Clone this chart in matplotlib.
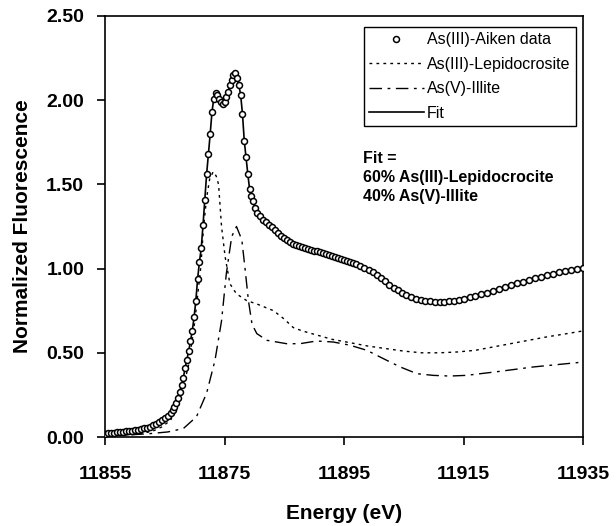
import matplotlib
matplotlib.use("Agg")
import matplotlib.pyplot as plt
from matplotlib.ticker import FormatStrFormatter

plt.rcParams["font.family"] = ["Liberation Sans", "DejaVu Sans"]

# As(III)-Aiken data (energy in eV, normalized fluorescence)
data_e = [
    11855.0, 11855.5, 11856.0, 11856.5, 11857.0, 11857.5, 11858.0, 11858.5,
    11859.0, 11859.5, 11860.0, 11860.5, 11861.0, 11861.5, 11862.0, 11862.5,
    11863.0, 11863.5, 11864.0, 11864.5, 11865.0, 11865.5, 11866.0,
    11866.3, 11866.6, 11866.9, 11867.2, 11867.5, 11867.8, 11868.1, 11868.4,
    11868.7, 11869.0, 11869.3, 11869.6, 11869.9, 11870.2, 11870.5, 11870.8,
    11871.1, 11871.4, 11871.7, 11872.0, 11872.3, 11872.6, 11872.9, 11873.2,
    11873.5, 11873.8, 11874.1, 11874.4, 11874.7, 11875.0, 11875.3, 11875.6,
    11875.9, 11876.2, 11876.5, 11876.8, 11877.1, 11877.4, 11877.7, 11878.0,
    11878.3, 11878.6, 11878.9, 11879.2, 11879.5, 11879.8, 11880.1,
    11880.5, 11881.0, 11881.5, 11882.0, 11882.5, 11883.0, 11883.5, 11884.0,
    11884.5, 11885.0, 11885.5, 11886.0, 11886.5, 11887.0, 11887.5, 11888.0,
    11888.5, 11889.0, 11889.5, 11890.0, 11890.5, 11891.0, 11891.5, 11892.0,
    11892.5, 11893.0, 11893.5, 11894.0, 11894.5, 11895.0, 11895.5, 11896.0,
    11896.5, 11897.0,
    11897.7, 11898.4, 11899.1, 11899.8, 11900.5, 11901.2, 11901.9, 11902.6,
    11903.3, 11904.0, 11904.7, 11905.4,
    11906.2, 11907.0, 11907.8, 11908.6, 11909.4, 11910.2, 11911.0, 11911.8,
    11912.6, 11913.4, 11914.2, 11915.0, 11916.0, 11917.0, 11918.0, 11919.0,
    11920.0, 11921.0, 11922.0, 11923.0, 11924.0, 11925.0, 11926.0, 11927.0,
    11928.0, 11929.0, 11930.0, 11931.0, 11932.0, 11933.0, 11934.0, 11935.0,
]
data_y = [
    0.020, 0.022, 0.024, 0.026, 0.028, 0.030, 0.032, 0.034,
    0.036, 0.038, 0.041, 0.044, 0.047, 0.051, 0.056, 0.062,
    0.069, 0.077, 0.087, 0.099, 0.112, 0.127, 0.145,
    0.16, 0.18, 0.20, 0.23, 0.27, 0.31, 0.35, 0.41,
    0.46, 0.51, 0.57, 0.63, 0.71, 0.81, 0.94, 1.04,
    1.12, 1.26, 1.41, 1.56, 1.68, 1.80, 1.93, 2.01,
    2.04, 2.03, 2.01, 1.99, 1.98, 1.99, 2.02, 2.05,
    2.09, 2.12, 2.15, 2.16, 2.13, 2.09, 2.03, 1.92,
    1.76, 1.66, 1.56, 1.47, 1.43, 1.40, 1.36,
    1.33, 1.31, 1.29, 1.275, 1.26, 1.245, 1.228, 1.21,
    1.195, 1.18, 1.168, 1.157, 1.148, 1.14, 1.133, 1.127,
    1.122, 1.117, 1.112, 1.107, 1.102, 1.097, 1.092, 1.087,
    1.081, 1.075, 1.069, 1.063, 1.057, 1.052, 1.047, 1.042,
    1.036, 1.029,
    1.018, 1.006, 0.992, 0.977, 0.960, 0.942, 0.924, 0.905,
    0.887, 0.870, 0.855, 0.842,
    0.830, 0.820, 0.813, 0.808, 0.805, 0.803, 0.802, 0.803,
    0.806, 0.810, 0.815, 0.821, 0.829, 0.838, 0.848, 0.858,
    0.869, 0.880, 0.891, 0.902, 0.913, 0.923, 0.933, 0.943,
    0.952, 0.961, 0.969, 0.977, 0.984, 0.991, 0.996, 1.002,
]

# As(III)-Lepidocrocite reference
lep_e = [11855, 11858, 11861, 11863, 11864.5, 11866, 11868, 11869, 11870,
         11871, 11871.5, 11872, 11872.5, 11873.1, 11873.6, 11874.0, 11874.5,
         11875.1, 11875.9, 11877, 11878.7, 11880.4, 11883.2, 11885, 11886.5,
         11888, 11890, 11893, 11896, 11899, 11902, 11905, 11908, 11911,
         11914, 11917, 11920, 11923, 11926, 11929, 11932, 11935]
lep_y = [0.005, 0.01, 0.02, 0.035, 0.06, 0.10, 0.28, 0.43, 0.68,
         1.00, 1.25, 1.42, 1.53, 1.575, 1.55, 1.50, 1.25,
         1.07, 0.91, 0.85, 0.81, 0.79, 0.75, 0.70, 0.65,
         0.63, 0.61, 0.58, 0.56, 0.54, 0.525, 0.51, 0.50, 0.50,
         0.505, 0.515, 0.535, 0.555, 0.575, 0.595, 0.612, 0.63]

# As(V)-Illite reference
ill_e = [11855, 11858, 11862.5, 11865.5, 11868.1, 11870.3, 11872.0, 11873.4,
         11874.5, 11875.3, 11876.2, 11877.0, 11877.9, 11878.4, 11879.0,
         11879.6, 11880.4, 11882.1, 11885.4, 11887.6, 11890.4, 11893.2,
         11896.0, 11898.8, 11901.6, 11904.4, 11907.2, 11909.9, 11912.7,
         11915.5, 11921.1, 11926.7, 11935]
ill_y = [0.005, 0.01, 0.02, 0.03, 0.05, 0.12, 0.26, 0.455,
         0.69, 0.97, 1.19, 1.25, 1.17, 1.01, 0.81,
         0.67, 0.614, 0.574, 0.554, 0.554, 0.570, 0.564,
         0.545, 0.515, 0.465, 0.416, 0.376, 0.366, 0.362,
         0.366, 0.39, 0.416, 0.445]

x_ticks = [11855, 11875, 11895, 11915, 11935]
y_ticks = [0.0, 0.5, 1.0, 1.5, 2.0, 2.5]

fig = plt.figure(figsize=(6.16, 5.26), dpi=100)
ax = fig.add_axes([0.1705, 0.1692, 0.776, 0.8004])

ax.plot(data_e, data_y, linestyle="none", marker="o", markersize=4.3,
        markerfacecolor="white", markeredgecolor="black", markeredgewidth=1.1,
        label="As(III)-Aiken data", zorder=3)
ax.plot(lep_e, lep_y, color="black", linewidth=1.0, dashes=(2, 3),
        label="As(III)-Lepidocrosite")
ax.plot(ill_e, ill_y, color="black", linewidth=1.0, dashes=(9, 4, 2, 4),
        label="As(V)-Illite")
ax.plot(data_e, data_y, color="black", linewidth=1.2, label="Fit", zorder=2)

ax.set_xlim(11855, 11935)
ax.set_ylim(0, 2.5)
ax.set_xticks(x_ticks)
ax.set_yticks(y_ticks)
ax.xaxis.set_major_formatter(FormatStrFormatter("%d"))
ax.yaxis.set_major_formatter(FormatStrFormatter("%.2f"))
ax.tick_params(direction="out", length=6, width=1.2, labelsize=14)
ax.tick_params(axis="x", pad=15)
ax.tick_params(axis="y", pad=9)
for lab in ax.get_xticklabels() + ax.get_yticklabels():
    lab.set_fontweight("bold")
for sp in ax.spines.values():
    sp.set_linewidth(1.2)

ax.set_xlabel("Energy (eV)", fontsize=15, fontweight="bold", labelpad=15)
ax.set_ylabel("Normalized Fluorescence", fontsize=15, fontweight="bold", labelpad=10)

leg = ax.legend(loc="upper right", bbox_to_anchor=(0.985, 0.975), fontsize=11.5,
                handlelength=3.4, handletextpad=0.2, labelspacing=0.6,
                borderpad=0.35, fancybox=False, edgecolor="black",
                framealpha=1, borderaxespad=0)
leg.get_frame().set_linewidth(1.0)

ax.text(0.54, 0.68, "Fit =\n60% As(III)-Lepidocrocite\n40% As(V)-Illite",
        transform=ax.transAxes, fontsize=11.5, fontweight="bold",
        va="top", ha="left", linespacing=1.35)

fig.savefig("out.png", dpi=100)
